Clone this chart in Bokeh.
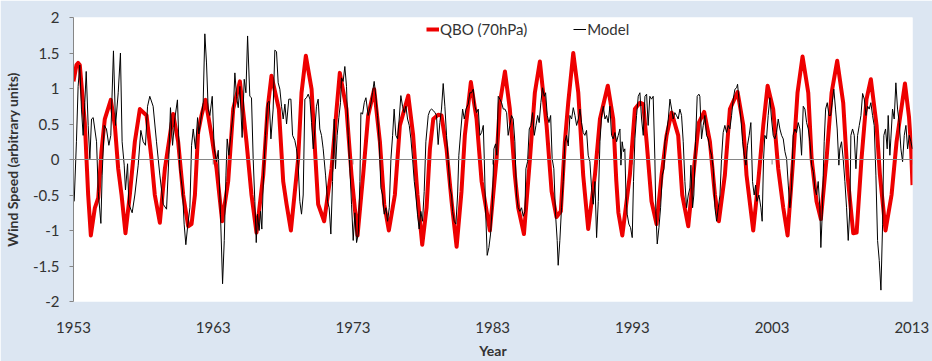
from bokeh.plotting import figure
from bokeh.models import Span, Legend, LegendItem, FixedTicker
from bokeh.embed import file_html
from bokeh.resources import INLINE

# ---- data ----
qbo_year = [1953.00, 1953.21, 1953.33, 1953.45, 1953.81, 1954.05, 1954.24, 1954.53, 1954.77, 1955.00,
            1955.24, 1955.67, 1955.96, 1956.20, 1956.44, 1956.72, 1957.03, 1957.39, 1957.75, 1958.23,
            1958.58, 1958.82, 1959.18, 1959.54, 1959.90, 1960.13, 1960.49, 1960.85, 1961.21, 1961.45,
            1961.69, 1961.92, 1962.16, 1962.45, 1962.88, 1963.24, 1963.64, 1964.07, 1964.43, 1964.91,
            1965.38, 1965.74, 1966.10, 1966.58, 1966.89, 1967.17, 1967.70, 1968.01, 1968.25, 1968.56,
            1969.08, 1969.32, 1969.63, 1970.04, 1970.32, 1970.51, 1970.94, 1971.47, 1971.83, 1972.06,
            1972.54, 1972.90, 1973.33, 1973.73, 1974.09, 1974.52, 1974.93, 1975.24, 1975.57, 1976.00,
            1976.36, 1976.96, 1977.31, 1977.62, 1977.96, 1978.27, 1978.51, 1978.75, 1979.10, 1979.34,
            1979.70, 1980.06, 1980.42, 1980.77, 1981.01, 1981.44, 1981.85, 1982.21, 1982.80, 1983.28,
            1983.52, 1983.88, 1984.23, 1984.59, 1984.83, 1985.24, 1985.67, 1986.02, 1986.38, 1986.86,
            1987.22, 1987.57, 1987.88, 1988.17, 1988.41, 1988.77, 1989.13, 1989.48, 1989.84, 1990.32,
            1990.68, 1991.24, 1991.63, 1991.85, 1992.00, 1992.28, 1992.82, 1993.18, 1993.54, 1993.78,
            1994.02, 1994.37, 1994.73, 1995.09, 1995.45, 1995.81, 1996.28, 1996.57, 1997.00, 1997.48,
            1997.76, 1998.14, 1998.55, 1998.91, 1999.19, 1999.62, 1999.98, 2000.53, 2000.94, 2001.17,
            2001.65, 2002.01, 2002.37, 2002.68, 2003.08, 2003.44, 2003.80, 2004.11, 2004.51, 2004.82,
            2005.18, 2005.59, 2005.83, 2006.18, 2006.49, 2006.90, 2007.26, 2007.66, 2008.09, 2008.40,
            2008.81, 2009.05, 2009.40, 2009.76, 2010.07, 2010.48, 2010.72, 2011.12, 2011.55, 2011.91,
            2012.51, 2012.80, 2012.95, 2013.05]
qbo_val = [1.10, 1.33, 1.36, 1.33, 0.52, -0.50, -1.07, -0.68, -0.54, 0.11,
           0.57, 0.84, 0.48, -0.13, -0.50, -1.04, -0.50, 0.25, 0.71, 0.62,
           0.01, -0.50, -0.89, -0.13, 0.34, 0.64, 0.25, -0.50, -0.94, -0.91,
           -0.50, 0.38, 0.62, 0.84, 0.34, -0.13, -0.87, -0.31, 0.71, 1.10,
           0.25, -0.50, -1.03, -0.22, 0.71, 1.18, 0.71, -0.31, -0.63, -1.00,
           0.01, 0.94, 1.46, 0.99, 0.01, -0.63, -0.87, -0.13, 0.71, 1.22,
           0.71, -0.22, -1.07, -0.22, 0.62, 0.99, 0.25, -0.63, -1.00, -0.50,
           0.48, 0.90, 0.34, -0.50, -1.20, -0.68, 0.15, 0.57, 0.63, 0.62,
           0.15, -0.59, -1.23, -0.45, 0.34, 1.09, 0.57, -0.31, -1.00, 0.01,
           0.80, 1.24, 0.71, -0.22, -0.68, -1.05, 0.01, 0.94, 1.38, 0.48,
           -0.45, -0.81, -0.73, 0.25, 0.80, 1.50, 0.94, -0.22, -0.98, -0.22,
           0.57, 1.04, 0.57, -0.30, -0.75, -1.07, -0.22, 0.71, 0.80, 0.78,
           0.25, -0.59, -0.91, -0.22, 0.34, 0.66, 0.34, -0.50, -0.94, 0.01,
           0.52, 0.67, 0.25, -0.50, -0.87, -0.22, 0.71, 0.95, 0.48, -0.22,
           -1.00, -0.31, 0.48, 1.04, 0.71, -0.13, -0.68, -1.07, 0.01, 0.94,
           1.45, 0.94, 0.01, -0.59, -0.84, 0.01, 0.94, 1.39, 0.80, -0.22,
           -1.04, -1.03, 0.01, 0.85, 1.13, 0.48, -0.22, -1.00, -0.50, 0.25,
           1.07, 0.60, 0.15, -0.36]

model_year = [1953.05, 1953.21, 1953.33, 1953.45, 1953.57, 1953.69, 1953.81, 1953.91, 1954.05, 1954.17,
              1954.29, 1954.41, 1954.65, 1954.77, 1954.96, 1955.05, 1955.20, 1955.36, 1955.53, 1955.67,
              1955.86, 1956.01, 1956.20, 1956.36, 1956.48, 1956.63, 1956.72, 1956.87, 1956.96, 1957.20,
              1957.39, 1957.63, 1957.82, 1957.99, 1958.15, 1958.30, 1958.46, 1958.70, 1958.94, 1959.18,
              1959.42, 1959.66, 1959.82, 1959.94, 1960.09, 1960.25, 1960.44, 1960.61, 1960.80, 1960.92,
              1961.04, 1961.16, 1961.33, 1961.45, 1961.57, 1961.73, 1961.88, 1961.97, 1962.12, 1962.28,
              1962.40, 1962.52, 1962.64, 1962.76, 1962.93, 1963.07, 1963.24, 1963.36, 1963.52, 1963.67,
              1963.79, 1963.91, 1964.00, 1964.12, 1964.26, 1964.43, 1964.55, 1964.67, 1964.79, 1964.91,
              1965.07, 1965.22, 1965.34, 1965.46, 1965.62, 1965.74, 1965.86, 1965.98, 1966.08, 1966.17,
              1966.29, 1966.39, 1966.48, 1966.60, 1966.74, 1966.89, 1967.01, 1967.13, 1967.29, 1967.41,
              1967.53, 1967.65, 1967.77, 1967.89, 1968.01, 1968.13, 1968.25, 1968.41, 1968.56, 1968.68,
              1968.84, 1968.96, 1969.08, 1969.20, 1969.32, 1969.44, 1969.56, 1969.68, 1969.80, 1969.92,
              1970.04, 1970.16, 1970.28, 1970.39, 1970.51, 1970.63, 1970.75, 1970.87, 1971.04, 1971.18,
              1971.30, 1971.42, 1971.54, 1971.66, 1971.75, 1971.87, 1971.99, 1972.11, 1972.18, 1972.30,
              1972.42, 1972.54, 1972.66, 1972.78, 1972.90, 1973.02, 1973.14, 1973.26, 1973.38, 1973.50,
              1973.57, 1973.69, 1973.81, 1973.93, 1974.09, 1974.28, 1974.40, 1974.52, 1974.64, 1974.76,
              1974.88, 1975.00, 1975.12, 1975.24, 1975.36, 1975.48, 1975.60, 1975.72, 1975.84, 1975.95,
              1976.07, 1976.19, 1976.31, 1976.43, 1976.55, 1976.67, 1976.79, 1976.91, 1977.03, 1977.15,
              1977.27, 1977.39, 1977.50, 1977.62, 1977.74, 1977.86, 1977.98, 1978.10, 1978.22, 1978.39,
              1978.51, 1978.63, 1978.75, 1978.87, 1978.98, 1979.10, 1979.22, 1979.34, 1979.46, 1979.58,
              1979.70, 1979.82, 1979.94, 1980.06, 1980.13, 1980.25, 1980.37, 1980.49, 1980.58, 1980.73,
              1980.85, 1980.97, 1981.09, 1981.25, 1981.37, 1981.49, 1981.61, 1981.73, 1981.85, 1981.97,
              1982.09, 1982.21, 1982.33, 1982.40, 1982.49, 1982.61, 1982.73, 1982.85, 1982.97, 1983.09,
              1983.21, 1983.30, 1983.40, 1983.52, 1983.64, 1983.76, 1983.88, 1984.00, 1984.11, 1984.23,
              1984.35, 1984.47, 1984.59, 1984.71, 1984.83, 1984.95, 1985.07, 1985.19, 1985.31, 1985.38,
              1985.50, 1985.62, 1985.74, 1985.86, 1985.98, 1986.10, 1986.22, 1986.33, 1986.45, 1986.57,
              1986.69, 1986.79, 1986.91, 1987.03, 1987.15, 1987.26, 1987.38, 1987.50, 1987.62, 1987.69,
              1987.81, 1987.93, 1988.05, 1988.17, 1988.29, 1988.41, 1988.53, 1988.65, 1988.77, 1988.89,
              1989.01, 1989.13, 1989.25, 1989.36, 1989.48, 1989.60, 1989.72, 1989.84, 1989.96, 1990.08,
              1990.20, 1990.32, 1990.44, 1990.56, 1990.68, 1990.80, 1990.92, 1991.04, 1991.15, 1991.27,
              1991.39, 1991.51, 1991.63, 1991.75, 1991.87, 1991.99, 1992.11, 1992.18, 1992.27, 1992.37,
              1992.46, 1992.54, 1992.63, 1992.75, 1992.87, 1992.99, 1993.08, 1993.18, 1993.30, 1993.42,
              1993.54, 1993.66, 1993.78, 1993.90, 1994.02, 1994.13, 1994.25, 1994.37, 1994.49, 1994.61,
              1994.68, 1994.78, 1994.90, 1995.02, 1995.14, 1995.26, 1995.33, 1995.45, 1995.57, 1995.69,
              1995.81, 1995.92, 1996.04, 1996.16, 1996.28, 1996.40, 1996.52, 1996.64, 1996.76, 1996.88,
              1997.00, 1997.12, 1997.19, 1997.31, 1997.40, 1997.52, 1997.64, 1997.76, 1997.83, 1997.95,
              1998.07, 1998.19, 1998.31, 1998.43, 1998.55, 1998.67, 1998.79, 1998.91, 1999.03, 1999.15,
              1999.27, 1999.38, 1999.50, 1999.62, 1999.74, 1999.86, 1999.98, 2000.10, 2000.22, 2000.34,
              2000.46, 2000.53, 2000.65, 2000.77, 2000.89, 2001.01, 2001.13, 2001.24, 2001.36, 2001.48,
              2001.60, 2001.72, 2001.82, 2001.91, 2002.06, 2002.20, 2002.29, 2002.39, 2002.48, 2002.60,
              2002.72, 2002.84, 2002.96, 2003.08, 2003.20, 2003.32, 2003.44, 2003.56, 2003.68, 2003.80,
              2003.92, 2004.04, 2004.16, 2004.27, 2004.39, 2004.51, 2004.63, 2004.75, 2004.87, 2004.99,
              2005.11, 2005.23, 2005.35, 2005.47, 2005.59, 2005.71, 2005.83, 2005.95, 2006.06, 2006.18,
              2006.30, 2006.42, 2006.49, 2006.59, 2006.66, 2006.73, 2006.83, 2006.95, 2007.07, 2007.19,
              2007.30, 2007.42, 2007.54, 2007.66, 2007.78, 2007.85, 2007.97, 2008.09, 2008.21, 2008.33,
              2008.45, 2008.57, 2008.64, 2008.76, 2008.88, 2009.00, 2009.12, 2009.24, 2009.36, 2009.48,
              2009.60, 2009.72, 2009.84, 2009.95, 2010.07, 2010.19, 2010.31, 2010.43, 2010.55, 2010.67,
              2010.79, 2010.91, 2011.00, 2011.12, 2011.24, 2011.31, 2011.43, 2011.50, 2011.62, 2011.74,
              2011.86, 2011.98, 2012.10, 2012.22, 2012.34, 2012.46, 2012.58, 2012.70, 2012.82, 2012.94,
              2013.04]
model_val = [-0.59, 0.25, 1.03, 1.33, 0.71, 0.34, 0.80, 1.24, 0.48, 0.01,
             0.57, 0.59, 0.25, -0.45, -0.90, -0.22, 0.48, 0.43, 0.20, 0.34,
             1.53, 0.48, 0.94, 1.50, 0.25, -0.08, -0.43, -0.06, -0.63, -0.75,
             -0.50, -0.08, 0.41, 0.25, 0.20, 0.75, 0.89, 0.75, 0.25, -0.22,
             -0.63, -0.70, 0.01, 0.73, 0.20, 0.57, 0.84, -0.13, -0.43, -0.91,
             -1.20, -0.96, -0.68, 0.20, 0.43, 0.15, 0.59, 0.36, 0.57, 0.80,
             1.77, 1.36, 0.71, 0.62, 0.89, 0.15, -0.03, 0.13, -0.77, -1.75,
             -1.14, -0.22, 0.29, 0.06, 0.34, 0.66, 1.22, 0.89, 0.73, 1.03,
             0.31, 1.13, 0.94, 1.74, 0.89, 0.87, 0.01, -0.59, -1.17, -0.77,
             -1.00, -0.73, -0.98, -0.22, 0.34, 0.80, 0.82, 0.29, 0.71, 1.54,
             1.52, 1.08, 0.99, 0.75, 0.57, 0.78, 0.50, 0.85, 0.85, 0.34,
             0.27, 0.15, -0.08, -0.59, -0.77, -0.50, 0.85, 0.87, 0.92, 0.85,
             0.52, 0.15, 0.43, 0.75, 0.85, 0.43, 0.34, 0.15, -0.22, -0.59,
             -0.68, -1.05, -0.31, 0.57, -0.13, 0.34, 0.59, 0.80, 1.15, 1.10,
             1.31, 1.03, 0.34, -0.13, -0.63, -1.14, -0.75, -1.17, -1.05, -0.31,
             0.66, 0.64, 0.80, 0.87, 0.62, 0.78, 0.94, 1.10, 0.89, 0.62,
             0.25, -0.40, -0.50, -0.77, -0.68, -0.87, -0.68, 0.01, 0.34, 0.71,
             0.34, 0.29, 0.57, 0.90, 0.75, 0.66, 0.75, 0.57, 0.48, 0.29,
             0.01, -0.31, -0.50, -0.77, -0.98, -0.73, -0.87, -0.45, 0.25, 0.62,
             0.69, 0.71, 0.69, 0.66, 0.62, 0.21, 0.52, 0.71, 1.07, 0.75,
             0.34, -0.03, -0.40, -0.50, -0.73, -0.87, -0.91, -0.50, 0.06, 0.43,
             0.71, 0.57, 0.71, 0.78, 0.94, 0.94, 0.99, 0.75, 0.66, 0.71,
             0.34, 0.38, 0.48, 0.01, -0.68, -1.35, -1.24, -1.05, -0.68, 0.15,
             0.22, 0.06, 0.89, 0.85, 0.80, 0.71, 0.71, 0.66, 0.34, 0.48,
             0.62, 0.57, 0.25, -0.50, -0.68, -0.73, -0.68, -0.80, -0.73, -0.13,
             -0.03, 0.43, 0.48, 0.66, 0.34, 0.48, 0.62, 0.52, 0.80, 1.01,
             0.89, 0.94, 0.62, 0.52, 0.62, 0.01, -0.13, -0.77, -1.14, -1.49,
             -1.14, -0.68, -0.31, 0.25, 0.34, 0.19, 0.62, 0.57, 0.73, 0.62,
             0.48, 0.57, 0.71, 0.52, 0.38, 0.34, 0.41, 0.06, -0.03, -0.40,
             -0.63, -0.31, -1.10, -0.59, 0.25, 0.62, 0.75, 0.57, 0.62, 0.52,
             0.75, 0.34, 0.29, 0.38, 0.25, 0.34, 0.43, -0.08, 0.25, 0.11,
             0.15, -0.50, -0.77, -0.91, -0.96, -1.10, -0.31, 0.29, 0.62, 0.89,
             0.94, 0.57, 0.34, 0.89, 0.92, 0.48, 0.89, 0.85, 0.89, 0.01,
             -0.73, -1.19, -0.96, -0.68, -0.22, -0.13, 0.25, 0.38, 0.57, 0.85,
             0.71, 0.57, 0.66, 0.62, 0.57, 0.71, 0.62, 0.25, -0.31, -0.68,
             -0.50, -0.40, -0.08, -0.68, -0.50, 0.25, 0.89, 0.92, 0.89, 0.29,
             0.48, 0.62, 0.34, 0.29, 0.15, 0.06, -0.13, -0.68, -0.87, -0.68,
             -0.50, 0.01, 0.38, 0.48, 0.38, 0.48, 0.43, 0.62, 0.85, 0.99,
             1.01, 1.06, 0.80, 0.57, 0.25, 0.06, -0.08, 0.20, 0.34, 0.52,
             -0.31, -0.50, -0.36, -0.59, -0.50, -0.68, -0.87, 0.01, 0.34, 0.29,
             0.62, 0.87, 0.57, 0.34, 0.29, 0.38, 0.57, 0.43, 0.34, 0.29,
             0.11, 0.01, -0.36, -0.68, -0.40, 0.34, 0.43, 0.38, 0.52, 0.43,
             0.06, 0.75, 0.71, 0.52, 0.43, 0.25, -0.08, -0.17, -0.40, -0.50,
             -0.31, -0.68, -1.24, -0.77, -0.22, 0.25, 0.71, 0.80, 0.62, 0.62,
             0.80, 0.99, 0.71, 0.43, -0.08, 0.15, 0.25, 0.01, -0.31, -0.68,
             -1.14, -0.68, 0.34, 0.43, 0.34, -0.13, 0.34, 0.48, 0.62, 0.93,
             0.85, 0.62, 0.75, 0.71, 0.80, 0.62, 0.48, -0.22, -1.14, -1.42,
             -1.84, -0.91, 0.34, 0.43, 0.15, 0.62, 0.06, 0.29, 0.71, 0.57,
             1.08, 0.71, 0.52, 0.15, -0.03, 0.34, 0.48, 0.15, 0.34, 0.25,
             0.15]

x_ticks = [1953, 1963, 1973, 1983, 1993, 2003, 2013]
y_ticks = [-2, -1.5, -1, -0.5, 0, 0.5, 1, 1.5, 2]
y_tick_labels = ["-2", "-1.5", "-1", "-0.5", "0", "0.5", "1", "1.5", "2"]
series_names = ["QBO (70hPa)", "Model"]

FONT = "Lato"
BG = "#dce6f2"
AXIS_GRAY = "#868686"
TEXT = "#333333"

p = figure(width=932, height=361, output_backend="svg", toolbar_location=None,
           x_range=(1953, 2013.05), y_range=(-2, 2),
           min_border_left=72, min_border_right=20, min_border_top=17, min_border_bottom=56)
p.background_fill_color = "white"
p.border_fill_color = BG
p.outline_line_color = None
p.xgrid.visible = False
p.ygrid.visible = False

# horizontal axis line crossing at zero, with decade tick marks
p.add_layout(Span(location=0, dimension="width", line_color=AXIS_GRAY, line_width=1))
p.segment(x0=x_ticks, x1=x_ticks, y0=[0] * len(x_ticks), y1=[-0.07] * len(x_ticks),
          line_color=AXIS_GRAY, line_width=1)

r_qbo = p.line(qbo_year, qbo_val, line_color="#ee0000", line_width=4, line_join="round")
r_mod = p.line(model_year, model_val, line_color="black", line_width=1)

xa = p.xaxis[0]
xa.ticker = FixedTicker(ticks=x_ticks)
xa.axis_line_color = None
xa.major_tick_line_color = None
xa.minor_tick_line_color = None
xa.major_label_standoff = 14
xa.major_label_text_font = FONT
xa.major_label_text_font_size = "15px"
xa.major_label_text_color = TEXT
xa.axis_label = "Year"
xa.axis_label_text_font = FONT
xa.axis_label_text_font_size = "14px"
xa.axis_label_text_font_style = "bold"
xa.axis_label_text_color = TEXT
xa.axis_label_standoff = 6

ya = p.yaxis[0]
ya.ticker = FixedTicker(ticks=y_ticks)
ya.major_label_overrides = {t: l for t, l in zip(y_ticks, y_tick_labels)}
ya.axis_line_color = AXIS_GRAY
ya.major_tick_line_color = AXIS_GRAY
ya.major_tick_out = 4
ya.major_tick_in = 0
ya.minor_tick_line_color = None
ya.major_label_standoff = 10
ya.major_label_text_font = FONT
ya.major_label_text_font_size = "15px"
ya.major_label_text_color = TEXT
ya.axis_label = "Wind Speed (arbitrary units)"
ya.axis_label_text_font = FONT
ya.axis_label_text_font_size = "14px"
ya.axis_label_text_font_style = "bold"
ya.axis_label_text_color = TEXT
ya.axis_label_standoff = 9

legend = Legend(items=[LegendItem(label=series_names[0], renderers=[r_qbo]),
                       LegendItem(label=series_names[1], renderers=[r_mod])],
                orientation="horizontal", location=(353, 262),
                background_fill_alpha=0, border_line_color=None,
                padding=0, margin=0, spacing=46, glyph_width=13, glyph_height=20,
                label_height=20, label_standoff=1,
                label_text_font=FONT, label_text_font_size="15px", label_text_color=TEXT)
p.add_layout(legend)

open("out.html", "w").write(file_html(p, INLINE))
